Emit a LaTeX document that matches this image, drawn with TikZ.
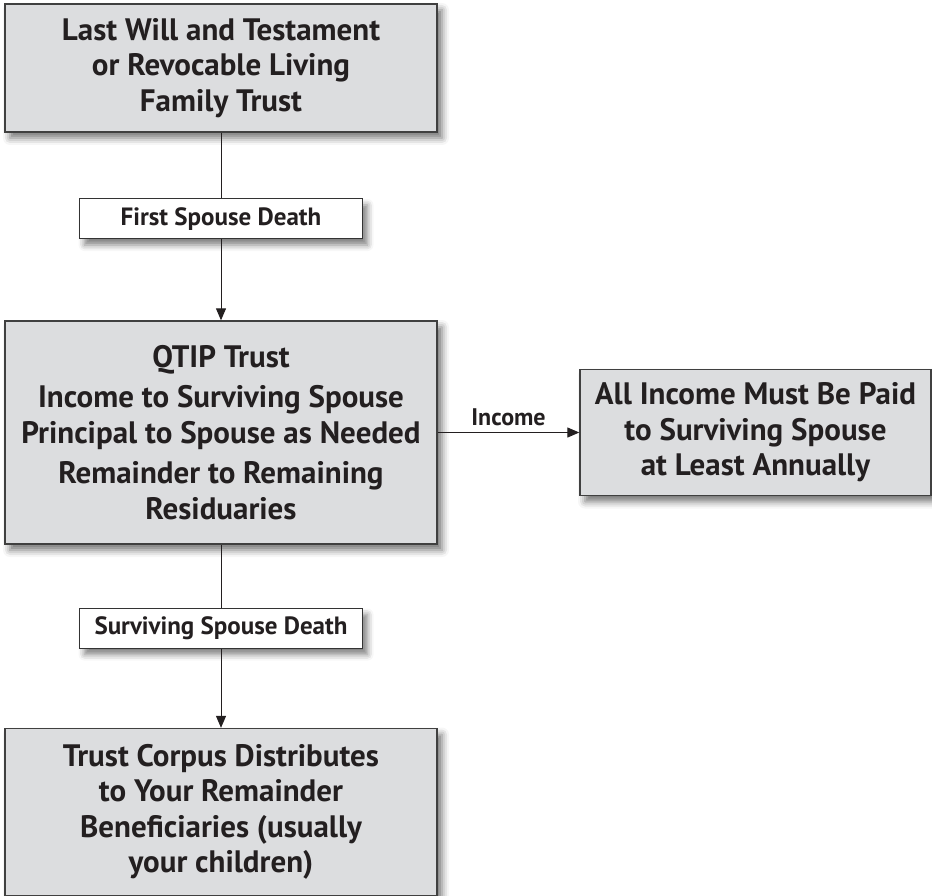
\documentclass[tikz,border=0pt]{standalone}
\usepackage{fontspec}
\setmainfont{PT Sans}
\usetikzlibrary{arrows.meta,shadows.blur}

\definecolor{boxgray}{HTML}{DCDDDF}
\definecolor{inkgray}{HTML}{231F20}

\begin{document}
\begin{tikzpicture}[x = 1pt, y = -1pt,
    every node/.style = {text = inkgray, font = \bfseries},
    bigbox/.style = {draw = black!75, line width = 1.3pt, fill = boxgray,
        align = center, inner sep = 0pt,
        font = \bfseries\fontsize{31}{35.5}\selectfont,
        blur shadow = {shadow xshift = 5pt, shadow yshift = -6pt,
            shadow blur radius = 7pt, shadow opacity = 55}},
    tag/.style = {draw = black!80, line width = 1pt, fill = white,
        minimum width = 283pt, minimum height = 40pt, inner sep = 0pt,
        font = \bfseries\fontsize{25}{30}\selectfont,
        blur shadow = {shadow xshift = 5pt, shadow yshift = -6pt,
            shadow blur radius = 6pt, shadow opacity = 50}},
    link/.style = {line width = 1pt, draw = inkgray},
    head/.style = {link, -{Triangle[length = 12pt, width = 10pt]}}]
    \useasboundingbox (0, 0) rectangle (932, 896);

    \node[bigbox, minimum width = 432pt, minimum height = 128pt] (will) at (221, 68)
        {Last Will and Testament\\or Revocable Living\\Family Trust};
    \node[tag] (first) at (221, 219) {First Spouse Death};
    \node[bigbox, minimum width = 432pt, minimum height = 223pt] (qtip) at (221, 432.5)
        {QTIP Trust\\[5pt]Income to Surviving Spouse\\Principal to Spouse as Needed\\[5pt]Remainder to Remaining\\Residuaries};
    \node[bigbox, minimum width = 351pt, minimum height = 126pt] (paid) at (755.5, 432.5)
        {All Income Must Be Paid\\to Surviving Spouse\\at Least Annually};
    \node[tag] (second) at (221, 628.5) {Surviving Spouse Death};
    \node[bigbox, minimum width = 432pt, minimum height = 167pt] (corpus) at (221, 812)
        {Trust Corpus Distributes\\to Your Remainder\\Beneficiaries (usually\\your children)};

    \draw[link] (will) -- (first);
    \draw[head] (first) -- (qtip);
    \draw[head] (qtip) -- node[above = 3pt, font = \bfseries\fontsize{24}{28}\selectfont] (income) {Income} (paid);
    \draw[link] (qtip) -- (second);
    \draw[head] (second) -- (corpus);
\end{tikzpicture}
\end{document}
